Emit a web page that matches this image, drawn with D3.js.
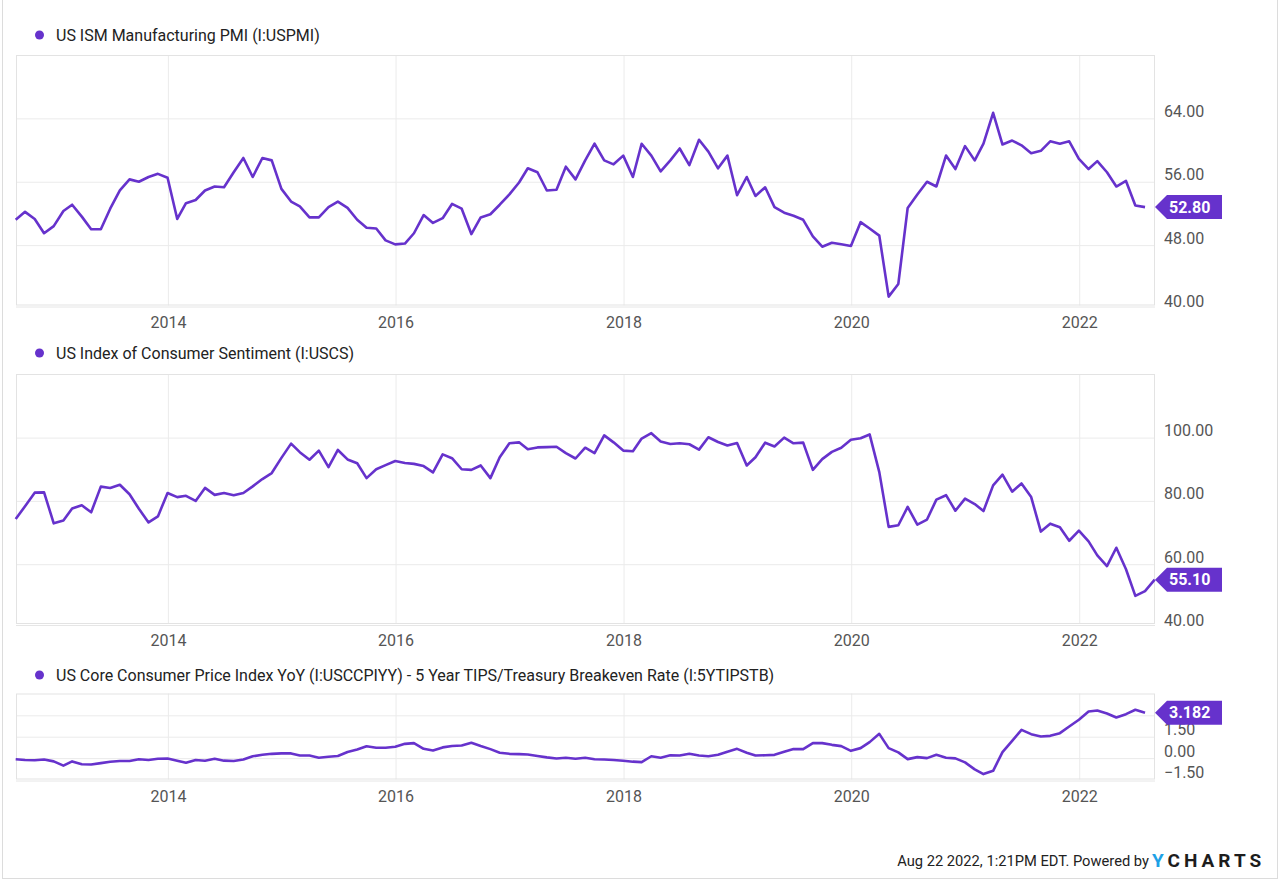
<!DOCTYPE html>
<html><head><meta charset="utf-8">
<script src="https://cdn.jsdelivr.net/npm/d3@7"></script>
<style>
html,body{margin:0;padding:0;background:#fff;}
svg{display:block;font-family:Roboto,"Noto Sans",sans-serif;}
</style>
</head><body>
<svg id="chart" width="1280" height="880"></svg>
<script>
// ---- Data (monthly, month-end) ----
// US ISM Manufacturing PMI, Aug 2012 - Jul 2022
const pmiValues = [
  51.2, 52.2, 51.3, 49.5, 50.4,
  52.3, 53.1, 51.6, 50.0, 50.0, 52.6, 54.9, 56.3, 56.0, 56.6, 57.0, 56.5,
  51.3, 53.3, 53.7, 54.9, 55.4, 55.3, 57.2, 59.0, 56.6, 59.0, 58.7, 55.1,
  53.5, 52.9, 51.5, 51.5, 52.8, 53.5, 52.7, 51.2, 50.2, 50.1, 48.6, 48.1,
  48.2, 49.5, 51.8, 50.8, 51.4, 53.2, 52.6, 49.4, 51.5, 51.9, 53.1, 54.4,
  55.9, 57.7, 57.2, 54.9, 55.0, 57.9, 56.3, 58.7, 60.8, 58.7, 58.2, 59.3,
  56.6, 60.8, 59.3, 57.3, 58.7, 60.2, 58.1, 61.3, 59.8, 57.7, 59.3, 54.3,
  56.6, 54.2, 55.3, 52.8, 52.1, 51.7, 51.2, 49.1, 47.8, 48.3, 48.1, 47.9,
  50.9, 50.1, 49.2, 41.5, 43.1, 52.7, 54.4, 56.0, 55.4, 59.3, 57.6, 60.5,
  58.7, 60.8, 64.7, 60.7, 61.2, 60.6, 59.6, 59.9, 61.1, 60.8, 61.1, 58.9,
  57.6, 58.6, 57.2, 55.4, 56.1, 53.0, 52.8
];
// US Index of Consumer Sentiment, Aug 2012 - Aug 2022
const sentimentValues = [
  74.3, 78.3, 82.6, 82.7, 72.9,
  73.8, 77.6, 78.6, 76.4, 84.5, 84.1, 85.1, 82.1, 77.5, 73.2, 75.1, 82.5,
  81.2, 81.6, 80.0, 84.1, 81.9, 82.5, 81.8, 82.5, 84.6, 86.9, 88.8, 93.6,
  98.1, 95.4, 93.0, 95.9, 90.7, 96.1, 93.1, 91.9, 87.2, 90.0, 91.3, 92.6,
  92.0, 91.7, 91.0, 89.0, 94.7, 93.5, 90.0, 89.8, 91.2, 87.2, 93.8, 98.2,
  98.5, 96.3, 96.9, 97.0, 97.1, 95.1, 93.4, 96.8, 95.1, 100.7, 98.5, 95.9,
  95.7, 99.7, 101.4, 98.8, 98.0, 98.2, 97.9, 96.2, 100.1, 98.6, 97.5, 98.3,
  91.2, 93.8, 98.4, 97.2, 100.0, 98.2, 98.4, 89.8, 93.2, 95.5, 96.8, 99.3,
  99.8, 101.0, 89.1, 71.8, 72.3, 78.1, 72.5, 74.1, 80.4, 81.8, 76.9, 80.7,
  79.0, 76.8, 84.9, 88.3, 82.9, 85.5, 81.2, 70.3, 72.8, 71.7, 67.4, 70.6,
  67.2, 62.8, 59.4, 65.2, 58.4, 50.0, 51.5, 55.1
];
// Core CPI YoY minus 5Y TIPS/Treasury breakeven, Aug 2012 - Jul 2022
const spreadValues = [
  -0.08, -0.13, -0.15, -0.10, -0.23,
  -0.53, -0.23, -0.43, -0.45, -0.35, -0.25, -0.20, -0.20, -0.08, -0.13, -0.05, -0.03,
  -0.18, -0.33, -0.13, -0.18, -0.05, -0.18, -0.20, -0.10, 0.13, 0.23, 0.30, 0.33,
  0.33, 0.18, 0.18, 0.03, 0.10, 0.15, 0.43, 0.60, 0.83, 0.73, 0.73, 0.80,
  1.00, 1.05, 0.65, 0.53, 0.75, 0.85, 0.88, 1.08, 0.85, 0.63, 0.38, 0.30,
  0.28, 0.25, 0.15, 0.05, -0.03, 0.03, -0.05, 0.03, -0.08, -0.10, -0.13, -0.18,
  -0.25, -0.28, 0.13, 0.03, 0.20, 0.18, 0.30, 0.18, 0.13, 0.23, 0.45, 0.65,
  0.38, 0.18, 0.20, 0.23, 0.44, 0.63, 0.63, 1.05, 1.05, 0.93, 0.84, 0.51,
  0.70, 1.12, 1.70, 0.70, 0.40, -0.07, 0.07, 0.00, 0.23, 0.02, -0.02, -0.30,
  -0.79, -1.12, -0.89, 0.42, 1.21, 1.98, 1.68, 1.52, 1.56, 1.75, 2.22, 2.69,
  3.27, 3.34, 3.13, 2.85, 3.08, 3.39, 3.182
];
const seriesNames = [
  "US ISM Manufacturing PMI (I:USPMI)",
  "US Index of Consumer Sentiment (I:USCS)",
  "US Core Consumer Price Index YoY (I:USCCPIYY) - 5 Year TIPS/Treasury Breakeven Rate (I:5YTIPSTB)"
];
const lastLabels = ["52.80", "55.10", "3.182"];
const yearTicks = [2014, 2016, 2018, 2020, 2022];
const pmiTicks = [40, 48, 56, 64];
const sentimentTicks = [40, 60, 80, 100];
const spreadTicks = [-1.5, 0, 1.5, 3];
const spreadLabelTicks = [-1.5, 0, 1.5];
const footerText = "Aug 22 2022, 1:21PM EDT. Powered by";

// ---- Layout ----
const COLOR = "#6632cc";
const svg = d3.select("#chart");
const left = 16, right = 1155;
const monthEnd = (i) => new Date(2012, 8 + i, 0);
const x = d3.scaleTime()
  .domain([new Date(2012, 8, 1), new Date(2022, 8, 1)])
  .range([left, right]);

// outer frame
svg.append("rect").attr("x", 2.5).attr("y", -1).attr("width", 1275).attr("height", 879.5)
  .attr("fill", "none").attr("stroke", "#dcdcdc").attr("stroke-width", 1);

const panels = [
  {name: seriesNames[0], values: pmiValues, legendY: 35, top: 55, bottom: 305.5,
   domain: [40.38, 72], ticks: pmiTicks, labelTicks: pmiTicks, last: lastLabels[0]},
  {name: seriesNames[1], values: sentimentValues, legendY: 353, top: 374, bottom: 624,
   domain: [41.1, 120.1], ticks: sentimentTicks, labelTicks: sentimentTicks, last: lastLabels[1]},
  {name: seriesNames[2], values: spreadValues, legendY: 675, top: 693.5, bottom: 779.5,
   domain: [-1.5, 4.53], ticks: spreadTicks, labelTicks: spreadLabelTicks, last: lastLabels[2]}
];

panels.forEach(p => {
  const g = svg.append("g");
  const y = d3.scaleLinear().domain(p.domain).range([p.bottom, p.top]);
  const h = p.bottom - p.top;

  // legend
  g.append("circle").attr("cx", 39.5).attr("cy", p.legendY).attr("r", 4.5).attr("fill", COLOR);
  g.append("text").attr("x", 56).attr("y", p.legendY).attr("dy", "0.35em")
    .attr("font-size", 16).attr("fill", "#222").text(p.name);

  // horizontal gridlines
  const gridY = g.append("g").attr("transform", `translate(${left},0)`)
    .call(d3.axisLeft(y).tickValues(p.ticks.filter(t => t > p.domain[0] + 0.01)).tickSize(-(right - left)).tickFormat(""));
  gridY.select(".domain").remove();
  gridY.selectAll("line").attr("stroke", "#ebebeb");

  // vertical gridlines
  const gridX = g.append("g").attr("transform", `translate(0,${p.bottom})`)
    .call(d3.axisBottom(x).tickValues(yearTicks.map(yy => new Date(yy, 0, 1))).tickSize(-h).tickFormat(""));
  gridX.select(".domain").remove();
  gridX.selectAll("line").attr("stroke", "#ebebeb");

  // plot box
  g.append("rect").attr("x", left + 0.5).attr("y", p.top + 0.5)
    .attr("width", right - left - 1).attr("height", h - 1)
    .attr("fill", "none").attr("stroke", "#e3e3e3");
  g.append("line").attr("x1", left).attr("x2", right).attr("y1", p.bottom + 1.5).attr("y2", p.bottom + 1.5)
    .attr("stroke", "#e6e6e6");

  // x axis labels
  const xAxis = g.append("g").attr("transform", `translate(0,${p.bottom})`)
    .call(d3.axisBottom(x).tickValues(yearTicks.map(yy => new Date(yy, 0, 1)))
      .tickSize(0).tickPadding(11).tickFormat(d3.timeFormat("%Y")));
  xAxis.select(".domain").remove();
  xAxis.selectAll("text").attr("font-size", 16).attr("fill", "#555").attr("font-family", "Roboto");

  // y axis labels (right)
  const yAxis = g.append("g").attr("transform", `translate(${right},0)`)
    .call(d3.axisRight(y).tickValues(p.labelTicks).tickSize(0).tickPadding(9).tickFormat(d3.format(".2f")));
  yAxis.select(".domain").remove();
  yAxis.selectAll("text").attr("font-size", 16).attr("fill", "#555").attr("font-family", "Roboto")
    .attr("dy", "-0.12em");

  // line
  const data = p.values.map((v, i) => ({date: monthEnd(i), value: v}));
  g.append("path").datum(data)
    .attr("fill", "none").attr("stroke", COLOR).attr("stroke-width", 2.6)
    .attr("stroke-linejoin", "round")
    .attr("d", d3.line().x(d => x(d.date)).y(d => y(d.value)));

  // last value badge
  const lv = y(p.values[p.values.length - 1]);
  const bx = right, bw = 67, bh = 24;
  g.append("path")
    .attr("d", `M${bx},${lv} L${bx + 12},${lv - bh / 2} L${bx + bw},${lv - bh / 2} L${bx + bw},${lv + bh / 2} L${bx + 12},${lv + bh / 2} Z`)
    .attr("fill", COLOR);
  g.append("text").attr("x", bx + 14).attr("y", lv).attr("dy", "0.36em")
    .attr("font-size", 16).attr("font-weight", "bold").attr("fill", "#fff").text(p.last);
});

// footer
svg.append("text").attr("x", 1149).attr("y", 866).attr("text-anchor", "end")
  .attr("font-size", 14.7).attr("fill", "#222").text(footerText);
const logo = svg.append("text").attr("x", 1152).attr("y", 867)
  .attr("font-size", 19).attr("font-weight", "bold").attr("letter-spacing", "4")
  .attr("font-family", "Roboto");
logo.append("tspan").attr("fill", "#1ea1e6").text("Y");
logo.append("tspan").attr("fill", "#1d1d1d").text("CHARTS");
</script>
</body></html>
